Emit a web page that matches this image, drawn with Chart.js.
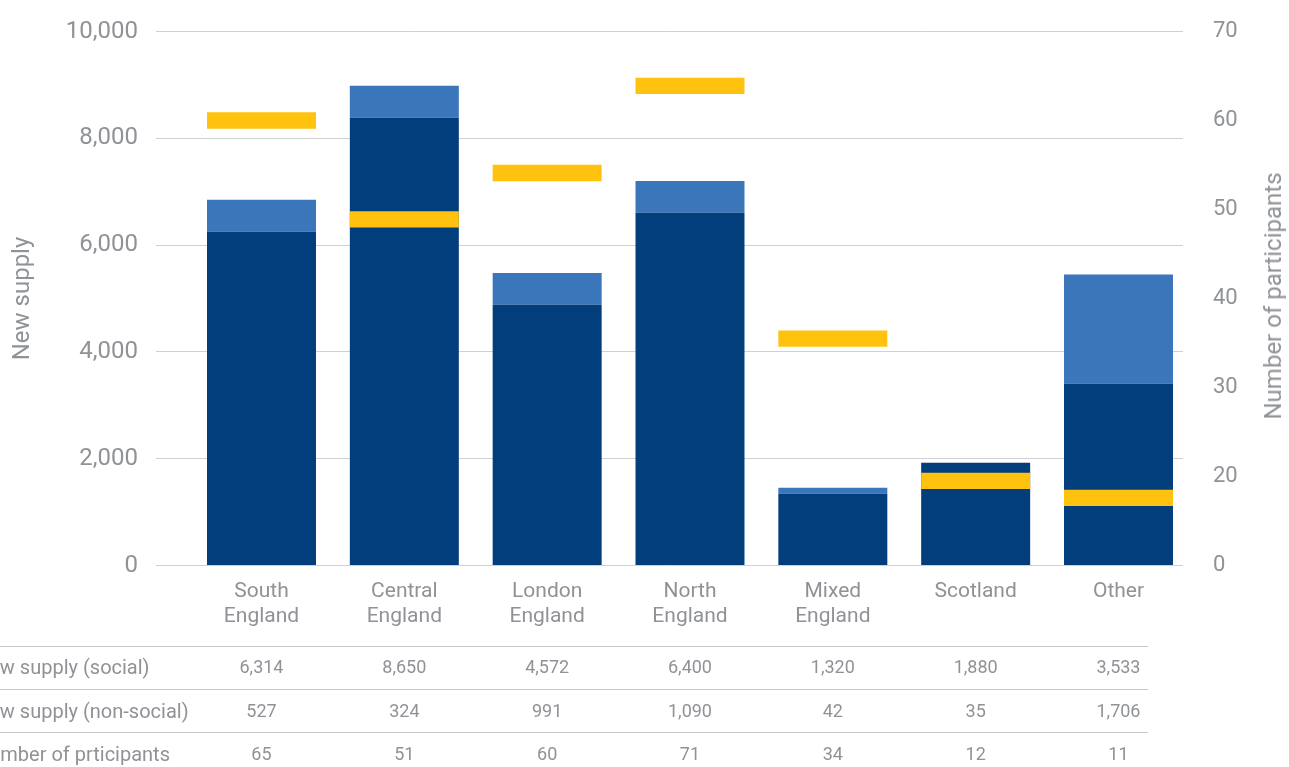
<!DOCTYPE html>
<html><head><meta charset="utf-8">
<script src="https://cdn.jsdelivr.net/npm/chart.js@4.4.1/dist/chart.umd.min.js"></script>
<style>
html,body{margin:0;padding:0;background:#fff;overflow:hidden;}
#wrap{position:relative;width:1289px;height:767px;overflow:hidden;}
canvas{position:absolute;left:0;top:0;}
.t{position:absolute;font-family:Roboto,sans-serif;color:#8f9296;white-space:nowrap;}
.ln{position:absolute;left:0;height:1px;background:#c8c8c8;}
</style></head><body>
<div id="wrap"><canvas id="c" width="1289" height="767"></canvas></div>
<script>
// ---- data ----
const categories = [['South','England'],['Central','England'],['London','England'],['North','England'],['Mixed','England'],['Scotland'],['Other']];
const socialBar = [6249, 8384, 4882, 6605, 1343, 1923, 3403];
const nonSocialBar = [599, 599, 596, 596, 112, 0, 2046];
const participantsMark = [60.0, 48.9, 54.1, 63.9, 35.5, 19.5, 17.6];
const leftTicks = [0, 2000, 4000, 6000, 8000, 10000];
const rightTickValues = [10, 20, 30, 40, 50, 60, 70];
const rightTickLabels = ['0', '20', '30', '40', '50', '60', '70'];
const tableRowLabels = ['New supply (social)', 'New supply (non-social)', 'Number of prticipants'];
const tableSocial = ['6,314', '8,650', '4,572', '6,400', '1,320', '1,880', '3,533'];
const tableNonSocial = ['527', '324', '991', '1,090', '42', '35', '1,706'];
const tableParticipants = ['65', '51', '60', '71', '34', '12', '11'];

const GREY = '#8f9296';
const FONT = 'Roboto, sans-serif';

const noPadV = s => { s.paddingTop = 0; s.paddingBottom = 0; };

const ctx = document.getElementById('c');
const chart = new Chart(ctx, {
  type: 'bar',
  data: {
    datasets: [
      {
        type: 'line',
        label: 'Number of participants',
        data: participantsMark.map((v, i) => ({x: i, y: v})),
        yAxisID: 'y2',
        showLine: false,
        pointStyle: 'line',
        pointRadius: 54.5,
        pointHoverRadius: 54.5,
        pointBorderWidth: 16.3,
        pointHoverBorderWidth: 16.3,
        pointBorderColor: '#ffc20e',
        pointBackgroundColor: '#ffc20e',
        clip: false
      },
      {
        label: 'New supply (social)',
        data: socialBar.map((v, i) => ({x: i, y: v})),
        backgroundColor: '#033e7c',
        yAxisID: 'y',
        barPercentage: 0.763,
        categoryPercentage: 1
      },
      {
        label: 'New supply (non-social)',
        data: nonSocialBar.map((v, i) => ({x: i, y: v})),
        backgroundColor: '#3b75ba',
        yAxisID: 'y',
        barPercentage: 0.763,
        categoryPercentage: 1
      }
    ]
  },
  options: {
    responsive: false,
    animation: false,
    events: [],
    layout: {autoPadding: false, padding: {left: 0, right: 0, top: 31.5, bottom: 123.5}},
    plugins: {legend: {display: false}, tooltip: {enabled: false}},
    scales: {
      x: {
        type: 'linear',
        min: -0.7386,
        max: 6.4516,
        offset: false,
        stacked: true,
        grid: {display: false, drawTicks: false},
        border: {display: false},
        afterBuildTicks: s => { s.ticks = categories.map((c, i) => ({value: i})); },
        afterFit: s => { s.paddingLeft = 0; s.paddingRight = 0; },
        ticks: {
          callback: v => categories[v],
          color: GREY,
          font: {family: FONT, size: 21, lineHeight: '25px'},
          padding: 14,
          maxRotation: 0,
          minRotation: 0,
          autoSkip: false
        }
      },
      y: {
        position: 'left',
        stacked: true,
        min: 0,
        max: 10000,
        afterFit: s => { s.width = 156; noPadV(s); },
        afterBuildTicks: s => { s.ticks = leftTicks.map(v => ({value: v})); },
        grid: {color: '#d0d0d0', lineWidth: 1, drawTicks: false},
        border: {display: false},
        ticks: {
          callback: v => v.toLocaleString('en-US'),
          color: GREY,
          font: {family: FONT, size: 24},
          padding: 18
        },
        title: {
          display: true,
          text: 'New supply',
          color: GREY,
          font: {family: FONT, size: 24, lineHeight: 1.2},
          padding: {top: 9, bottom: 0}
        }
      },
      y2: {
        position: 'right',
        stacked: false,
        min: 10,
        max: 70,
        afterFit: s => { s.width = 106; noPadV(s); },
        afterBuildTicks: s => { s.ticks = rightTickValues.map(v => ({value: v})); },
        grid: {drawOnChartArea: false, drawTicks: false},
        border: {display: false},
        ticks: {
          callback: (v, i) => rightTickLabels[rightTickValues.indexOf(v)],
          color: GREY,
          font: {family: FONT, size: 22},
          padding: 30
        }
      }
    }
  }
});

// ---- data table and right axis title (HTML text) ----
const wrap = document.getElementById('wrap');
function addText(txt, left, top, size, extra) {
  const d = document.createElement('div');
  d.className = 't';
  d.textContent = txt;
  d.style.left = left + 'px';
  d.style.top = top + 'px';
  d.style.fontSize = size + 'px';
  d.style.lineHeight = '22px';
  if (extra) Object.assign(d.style, extra);
  wrap.appendChild(d);
  return d;
}
addText('Number of participants', 1273, 296, 24, {transform: 'translate(-50%,-50%) rotate(-90deg)', lineHeight: '28px'});

const lineYs = [645.5, 688.5, 731.5];
lineYs.forEach(y => {
  const l = document.createElement('div');
  l.className = 'ln';
  l.style.top = y + 'px';
  l.style.width = '1148px';
  wrap.appendChild(l);
});
const rowCenters = [667, 710.5, 753.5];
const rows = [tableSocial, tableNonSocial, tableParticipants];
const xs = chart.scales.x;
rows.forEach((row, r) => {
  addText(tableRowLabels[r], -25, rowCenters[r] - 11, 20);
  row.forEach((val, i) => {
    addText(val, xs.getPixelForValue(i), rowCenters[r] - 11, 18, {transform: 'translateX(-50%)'});
  });
});
</script>
</body></html>
